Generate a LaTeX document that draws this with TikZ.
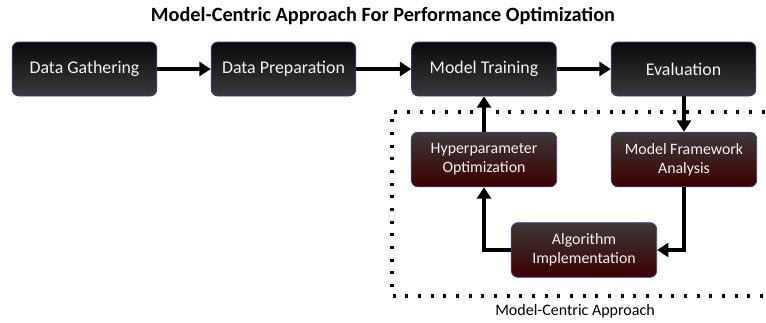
\documentclass[tikz,border=0pt]{standalone}
\usepackage{fontspec}
\setmainfont{Carlito}
\usetikzlibrary{arrows.meta}
\definecolor{edgeblue}{HTML}{3C3C9A}
\definecolor{blacktop}{HTML}{0A0A0E}
\definecolor{blackbot}{HTML}{3A3A3A}
\definecolor{redtop}{HTML}{3E3838}
\definecolor{redbot}{HTML}{3C0000}
\definecolor{boxtext}{HTML}{F2F2F2}
\tikzset{
  blackbox/.style={draw=edgeblue, line width=0.6pt, rounded corners=5pt,
    top color=blacktop, bottom color=blackbot, text=boxtext,
    minimum width=108.5pt, minimum height=40.5pt, inner sep=0pt,
    font=\fontsize{13.4}{15}\selectfont},
  redbox/.style={draw=edgeblue, line width=0.6pt, rounded corners=5pt,
    top color=redtop, bottom color=redbot, text=boxtext,
    minimum width=109pt, minimum height=41pt, inner sep=0pt, align=center,
    font=\fontsize{11.9}{14.3}\selectfont},
  flow/.style={line width=2.6pt, -{Triangle[length=8.5pt,width=10.5pt]}},
  dotbox/.style={line width=2.3pt, dash pattern=on 2.3pt off 7.2pt}
}
\begin{document}
\begin{tikzpicture}[x=0.75pt,y=-0.75pt]
\useasboundingbox (0,0) rectangle (766,322);
% title
\node[font=\bfseries\fontsize{15.2}{18}\selectfont] (title) at (383,16) {Model-Centric Approach For Performance Optimization};
% dotted region
\draw[dotbox] (790,112) -- (392,112) -- (392,296) -- (790,296);
\node[font=\fontsize{12}{14}\selectfont] (cap) at (575,311) {Model-Centric Approach};
% top row
\node[blackbox] (dg) at (84.5,69) {Data Gathering};
\node[blackbox] (dp) at (283.5,69) {Data Preparation};
\node[blackbox] (mt) at (484,69) {Model Training};
\node[blackbox] (ev) at (683.5,69) {Evaluation};
% lower boxes
\node[redbox] (hp) at (484,159.5) {Hyperparameter\\Optimization};
\node[redbox] (mf) at (684,159.5) {Model Framework\\Analysis};
\node[redbox] (ai) at (584,250) {Algorithm\\Implementation};
% connectors
\draw[flow] (dg) -- (dp);
\draw[flow] (dp) -- (mt);
\draw[flow] (mt) -- (ev);
\draw[flow] (ev.south -| mf.north) -- (mf.north);
\draw[flow] (hp) -- (mt);
\draw[flow] (mf.south) |- (ai.east);
\draw[flow] (ai.west) -| (hp.south);
\end{tikzpicture}
\end{document}
